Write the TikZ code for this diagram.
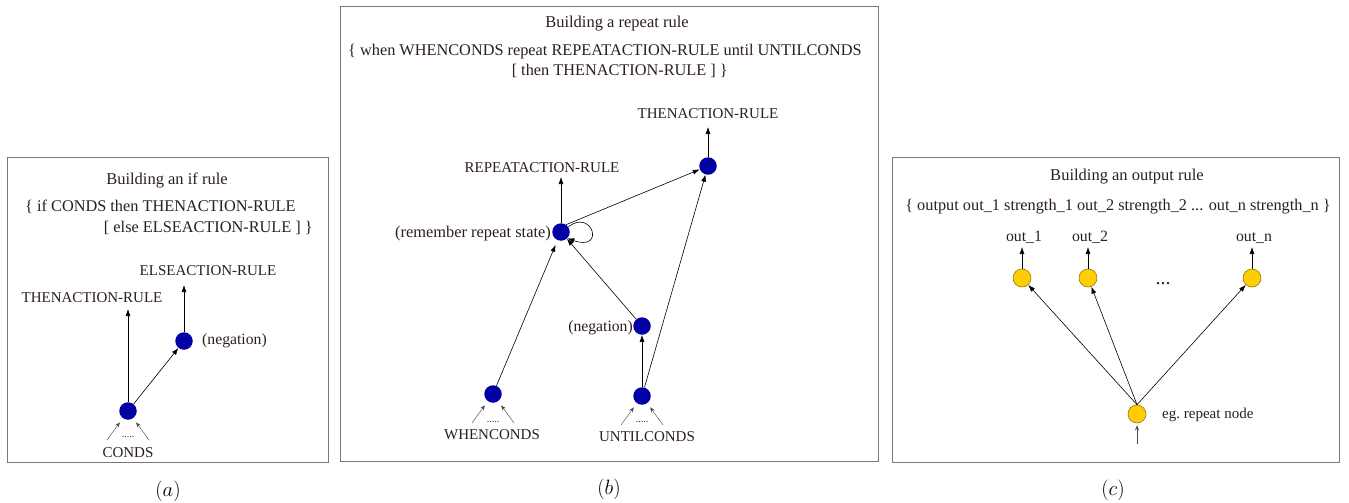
\documentclass[tikz,border=0pt]{standalone}
\usepackage[no-math]{fontspec}
\setmainfont{Liberation Serif}
\usepackage{xcolor}
\usetikzlibrary{arrows.meta}
\definecolor{ink}{RGB}{45,30,30}
\definecolor{nodeblue}{RGB}{0,0,165}
\definecolor{nodeyellow}{RGB}{255,205,0}
\definecolor{yellowrim}{RGB}{150,120,10}
\definecolor{framegray}{RGB}{120,120,120}

\begin{document}
\begin{tikzpicture}[x=1pt,y=-1pt,>={Latex[length=7pt,width=5pt]},
  bnode/.style={circle,fill=nodeblue,minimum size=17.5pt,inner sep=0pt},
  ynode/.style={circle,fill=nodeyellow,draw=yellowrim,line width=0.6pt,minimum size=18pt,inner sep=0pt},
  txt/.style={font=\fontsize{15}{17}\selectfont,text=ink,inner sep=0pt,anchor=base},
  big/.style={font=\fontsize{16.3}{18}\selectfont},
  ttl/.style={txt,font=\fontsize{16.5}{18}\selectfont},
  dotlbl/.style={font=\fontsize{10}{11}\selectfont,text=ink,inner sep=0pt,anchor=base},
  tag/.style={font=\fontsize{20}{22}\selectfont,inner sep=0pt},
  frame/.style={draw=framegray,line width=1pt},
  edge/.style={->,line width=0.6pt},
  feed/.style={-{Stealth[length=5pt,width=4pt]},line width=0.45pt,black!70,shorten >=5pt}]
\useasboundingbox (0,0) rectangle (1349,503);

% (a) if rule
\draw[frame] (7,157) rectangle (328,462);
\node[ttl] (ta) at (167,184) {Building an if rule};
\node[txt,big,anchor=base west] (sa1) at (25,211) {\{ if CONDS then THENACTION-RULE};
\node[txt,big,anchor=base east] (sa2) at (313,232) {[ else ELSEACTION-RULE ] \}};
\node[bnode] (ca) at (128,411) {};
\node[bnode] (na) at (184,341) {};
\node[txt] (tha) at (92,302) {THENACTION-RULE};
\node[txt] (ela) at (208,275) {ELSEACTION-RULE};
\node[txt,font=\fontsize{15.7}{17}\selectfont,anchor=base west] (nla) at (202,344) {(negation)};
\node[txt] (cla) at (128,457) {CONDS};
\node[dotlbl] (da) at (128,437) {.....};
\draw[edge] (ca) -- ([yshift=-7pt]ca |- tha.base);
\draw[edge] (na) -- ([yshift=-10pt]na |- ela.base);
\draw[edge] (ca) -- (na);
\draw[feed] ([shift={(-21,29)}]ca.center) -- (ca);
\draw[feed] ([shift={(21,29)}]ca.center) -- (ca);
\node[tag] (lba) at (168,491) {$(a)$};

% (b) repeat rule
\draw[frame] (340,7) rectangle (878,461);
\node[ttl] (tb) at (617,28) {Building a repeat rule};
\node[txt,big,anchor=base west] (sb1) at (348,56) {\{ when WHENCONDS repeat REPEATACTION-RULE until UNTILCONDS};
\node[txt,big,anchor=base east] (sb2) at (728,76) {[ then THENACTION-RULE ] \}};
\node[bnode] (thn) at (708,166) {};
\node[bnode] (rem) at (561,232) {};
\node[bnode] (whn) at (493,394) {};
\node[bnode] (unt) at (642,396) {};
\node[bnode] (ngb) at (642,326) {};
\node[txt] (thb) at (708,118) {THENACTION-RULE};
\node[txt] (rpb) at (542,172) {REPEATACTION-RULE};
\node[txt,font=\fontsize{16.4}{18}\selectfont,anchor=base east] (rmb) at (551,237) {(remember repeat state)};
\node[txt,font=\fontsize{15.7}{17}\selectfont,anchor=base east] (nlb) at (633,331) {(negation)};
\node[txt] (wcb) at (492,439) {WHENCONDS};
\node[txt] (ucb) at (647,441) {UNTILCONDS};
\node[dotlbl] (dw) at (493,422) {.....};
\node[dotlbl] (du) at (642,422) {.....};
\draw[edge] (thn) -- ([yshift=-9pt]thn |- thb.base);
\draw[edge] (rem) -- ([yshift=-5pt]rem |- rpb.base);
\draw[edge] (rem.55) -- (thn);
\draw[edge] (rem.35) .. controls (592,208) and (606,252) .. (rem.-45);
\draw[edge,shorten >=5pt] (whn) -- (rem);
\draw[edge] (ngb) -- (rem);
\draw[edge] (unt) -- (ngb);
\draw[edge] (unt) -- (thn);
\draw[feed] ([shift={(-21,29)}]whn.center) -- (whn);
\draw[feed] ([shift={(21,29)}]whn.center) -- (whn);
\draw[feed] ([shift={(-21,29)}]unt.center) -- (unt);
\draw[feed] ([shift={(21,29)}]unt.center) -- (unt);
\node[tag] (lbb) at (609,489) {$(b)$};

% (c) output rule
\draw[frame] (892,157) rectangle (1339,462);
\node[ttl] (tc) at (1127,180) {Building an output rule};
\node[txt,big] (sc1) at (1118,210) {\{ output out\_1 strength\_1 out\_2 strength\_2 ... out\_n strength\_n \}};
\node[ynode] (y1) at (1022,278) {};
\node[ynode] (y2) at (1088,278) {};
\node[ynode] (yn) at (1252,278) {};
\node[ynode] (rep) at (1137,414) {};
\node[txt,font=\fontsize{15.8}{17}\selectfont] (o1) at (1024,241) {out\_1};
\node[txt,font=\fontsize{15.8}{17}\selectfont] (o2) at (1090,241) {out\_2};
\node[txt,font=\fontsize{15.8}{17}\selectfont] (on) at (1254,241) {out\_n};
\node[txt,font=\fontsize{20}{22}\selectfont] (dc) at (1163,284) {...};
\node[txt,anchor=base west] (rpl) at (1162,418) {eg.\ repeat node};
\draw[edge] (y1) -- ([yshift=-6pt]y1 |- o1.base);
\draw[edge] (y2) -- ([yshift=-6pt]y2 |- o2.base);
\draw[edge] (yn) -- ([yshift=-6pt]yn |- on.base);
\draw[edge] (rep.north) -- (y1);
\draw[edge] (rep.north) -- (y2);
\draw[edge] (rep.north) -- (yn);
\coordinate (inc) at (1137,444);
\draw[feed,shorten >=2pt] (inc) -- (rep);
\node[tag] (lbc) at (1113,490) {$(c)$};
\end{tikzpicture}
\end{document}
